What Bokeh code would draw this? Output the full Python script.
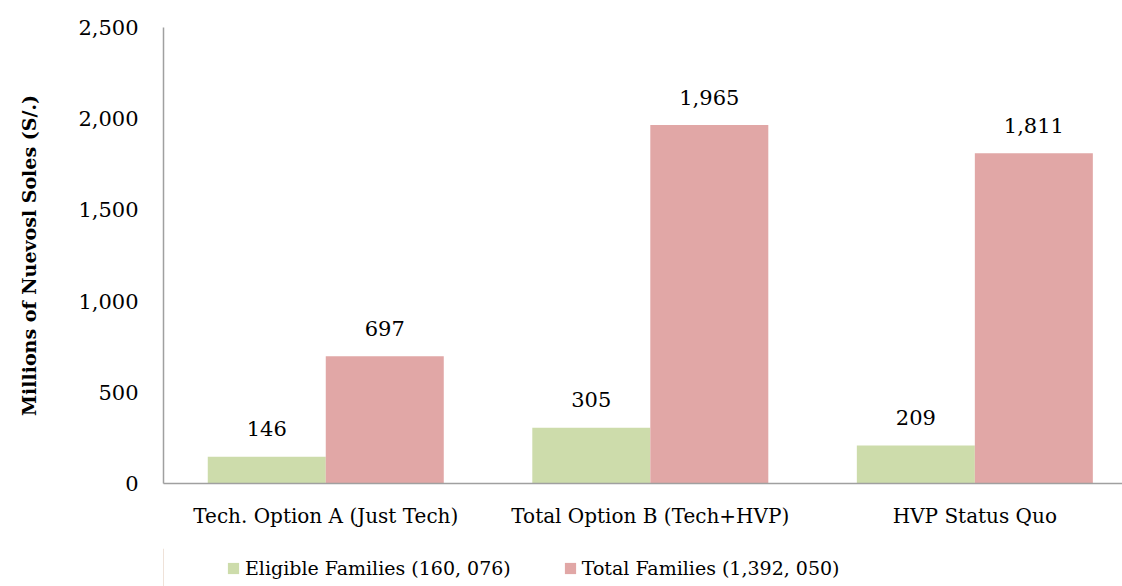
from bokeh.plotting import figure
from bokeh.layouts import column
from bokeh.models import (Range1d, FixedTicker, NumeralTickFormatter, Legend, LegendItem,
                          ColumnDataSource)
from bokeh.transform import dodge
from bokeh.core.properties import value
from bokeh.embed import file_html
from bokeh.resources import INLINE

categories = ["Tech. Option A (Just Tech)", "Total Option B (Tech+HVP)", "HVP Status Quo"]
eligible = [146, 305, 209]
total = [697, 1965, 1811]
series_names = ["Eligible Families (160, 076)", "Total Families (1,392, 050)"]
y_ticks = [0, 500, 1000, 1500, 2000, 2500]

GREEN = "#cddcab"
PINK = "#e1a7a6"
FONT = "DejaVu Serif"

centers = [i + 0.5 for i in range(len(categories))]
src = ColumnDataSource(dict(
    x=centers,
    eligible=eligible,
    total=total,
    eligible_lbl=[f"{v:,}" for v in eligible],
    total_lbl=[f"{v:,}" for v in total],
))

p = figure(width=1122, height=548, output_backend="svg", toolbar_location=None,
           x_range=Range1d(0, 2.955), y_range=Range1d(0, 2500),
           min_border_left=163, min_border_right=0, min_border_top=27,
           min_border_bottom=65)
p.outline_line_color = None
p.xgrid.visible = False
p.ygrid.visible = False

BW = 0.3636
r1 = p.vbar(x=dodge("x", -BW / 2), top="eligible", width=BW, source=src,
            fill_color=GREEN, line_color=None)
r2 = p.vbar(x=dodge("x", BW / 2), top="total", width=BW, source=src,
            fill_color=PINK, line_color=None)

for col, off in (("eligible", -BW / 2), ("total", BW / 2)):
    p.text(x=dodge("x", off), y=col, text=col + "_lbl", source=src,
           text_align="center", text_baseline="alphabetic", y_offset=-28,
           text_font=value(FONT), text_font_size="21px", text_color="#000000")

ya = p.yaxis[0]
ya.ticker = FixedTicker(ticks=y_ticks)
ya.formatter = NumeralTickFormatter(format="0,0")
ya.major_tick_line_color = None
ya.minor_tick_line_color = None
ya.axis_line_color = "#a0a0a0"
ya.axis_line_width = 1.5
ya.major_label_text_font = FONT
ya.major_label_text_font_size = "21px"
ya.major_label_text_color = "#000000"
ya.major_label_standoff = 19
ya.axis_label = "Millions of Nuevosl Soles (S/.)"
ya.axis_label_text_font = FONT
ya.axis_label_text_font_style = "bold"
ya.axis_label_text_font_size = "19px"
ya.axis_label_text_color = "#000000"
ya.axis_label_standoff = 35

xa = p.xaxis[0]
xa.ticker = FixedTicker(ticks=centers)
xa.major_label_overrides = {c: name for c, name in zip(centers, categories)}
xa.major_tick_line_color = None
xa.minor_tick_line_color = None
xa.axis_line_color = "#a0a0a0"
xa.axis_line_width = 1.5
xa.major_label_text_font = FONT
xa.major_label_text_font_size = "20px"
xa.major_label_text_color = "#000000"
xa.major_label_standoff = 14

# legend strip below the chart (its frame is aligned with the chart's frame)
lg = figure(width=1122, height=38, output_backend="svg", toolbar_location=None,
            x_range=Range1d(0, 1), y_range=Range1d(0, 1),
            x_axis_type=None, y_axis_type=None,
            min_border_left=0, min_border_right=0, min_border_top=0, min_border_bottom=0)
lg.outline_line_color = None
lg.background_fill_color = None
lg.border_fill_color = None
lg.xgrid.visible = False
lg.ygrid.visible = False
# proxy renderers (off-range) that only supply the legend swatches
g1 = lg.vbar(x=[-5], top=[1], width=0.1, fill_color=GREEN, line_color=None)
g2 = lg.vbar(x=[-5], top=[1], width=0.1, fill_color=PINK, line_color=None)

legend = Legend(items=[LegendItem(label=series_names[0], renderers=[g1]),
                       LegendItem(label=series_names[1], renderers=[g2])],
                orientation="horizontal", location=(63, 7),
                border_line_color=None, background_fill_alpha=0,
                label_text_font=FONT, label_text_font_size="19px",
                label_text_color="#000000",
                glyph_width=14, glyph_height=14, label_standoff=5, spacing=52,
                margin=0, padding=0)
lg.add_layout(legend, "center")

layout = column(p, lg, spacing=0)
open("out.html", "w").write(file_html(layout, INLINE))
